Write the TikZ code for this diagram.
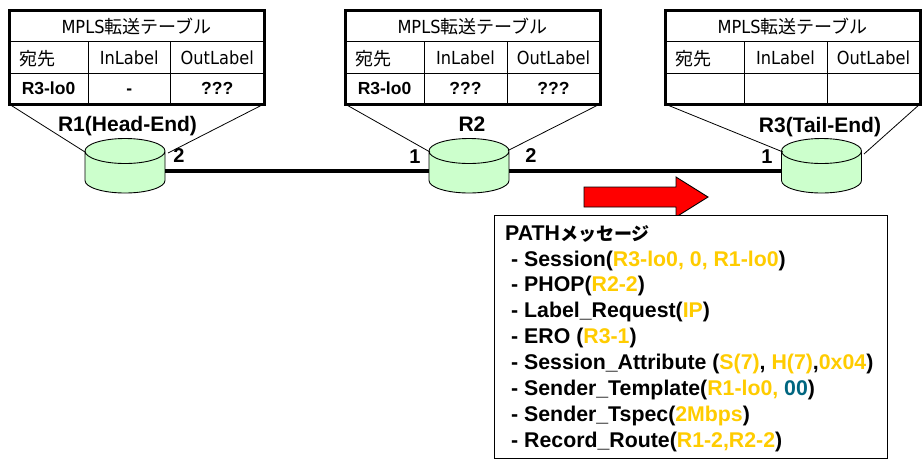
\documentclass[tikz,border=0pt]{standalone}
\usepackage{fontspec}
\setmainfont{Liberation Sans}
\newfontfamily\tah[FakeStretch=0.9]{DejaVu Sans}
\newfontfamily\cjk{Noto Sans CJK JP}
\usetikzlibrary{calc}
\definecolor{rgreen}{HTML}{CCFFCC}
\definecolor{val}{HTML}{FFCC00}
\definecolor{tealv}{HTML}{006680}
\tikzset{
  tableframe/.style={draw=black,line width=3pt,minimum width=255pt,minimum height=94pt,inner sep=0pt,outer sep=0pt,anchor=north west},
  gridline/.style={draw=black,line width=1pt},
  celltext/.style={font=\fontsize{18pt}{20pt}\tah,inner sep=0pt,anchor=base},
  cellbold/.style={font=\fontsize{17.5pt}{20pt}\bfseries,inner sep=0pt,anchor=base},
  router/.style={minimum width=80pt,minimum height=55pt,inner sep=0pt,outer sep=0pt},
  routerbody/.style={draw=black,line width=0.9pt,fill=rgreen},
  zoomline/.style={draw=black,line width=0.8pt},
  linkline/.style={draw=black,line width=3.5pt},
  rlabel/.style={font=\fontsize{21pt}{24pt}\bfseries,inner sep=0pt,anchor=base},
  portlabel/.style={font=\fontsize{20pt}{24pt}\bfseries,inner sep=0pt},
  flowanchor/.style={minimum width=124pt,minimum height=40pt,inner sep=0pt,outer sep=0pt},
  flowshape/.style={draw=black,line width=0.9pt,fill=red},
  msgbox/.style={draw=black,line width=1pt,fill=white,minimum width=393pt,minimum height=243pt,inner sep=0pt,anchor=north west},
  msgtext/.style={font=\fontsize{21.3pt}{25.9pt}\bfseries,align=left,inner sep=0pt,anchor=north west}
}
\newcommand{\jp}[1]{{\cjk #1}}
\newcommand{\jps}[1]{{\fontsize{18pt}{25.9pt}\cjk #1}}
\newcommand{\vv}[1]{\textcolor{val}{#1}}
% #1 name, #2 left x, #3 col1 x, #4 col2 x, #5 dest, #6 in, #7 out
\newcommand{\rtable}[7]{%
  \node[tableframe] (#1) at (#2,10) {};
  \coordinate (#1a) at (#3,41); \coordinate (#1b) at (#4,41);
  \coordinate (#1c) at (#3,104); \coordinate (#1d) at (#4,104);
  \coordinate (#1e) at (#2,41); \coordinate (#1f) at (#2+255,41);
  \coordinate (#1g) at (#2,73); \coordinate (#1h) at (#2+255,73);
  \draw[gridline] (#1e) -- (#1f);
  \draw[gridline] (#1g) -- (#1h);
  \draw[gridline] (#1a) -- (#1c);
  \draw[gridline] (#1b) -- (#1d);
  \node[celltext] (#1title) at (#2+127.5,33.5) {MPLS\jp{転送テーブル}};
  \node[celltext,anchor=base west] (#1dest) at (#2+10,65) {\jp{宛先}};
  \node[celltext] (#1in) at ({(#3+#4)/2},64.5) {InLabel};
  \node[celltext] (#1out) at ({(#4+#2+255)/2},64.5) {OutLabel};
  \node[cellbold] (#1v) at ({(#2+#3)/2},94.5) {#5};
  \node[cellbold] (#1w) at ({(#3+#4)/2},94.5) {#6};
  \node[cellbold] (#1x) at ({(#4+#2+255)/2},94.5) {#7};
}
% #1 node name
\newcommand{\rbody}[1]{%
  \draw[routerbody] ($(#1.center)+(-40,-14.5)$) -- ($(#1.center)+(-40,15)$)
    arc[start angle=180,end angle=360,x radius=40pt,y radius=12.5pt]
    -- ($(#1.center)+(40,-14.5)$)
    arc[start angle=0,end angle=180,x radius=40pt,y radius=12.5pt]
    arc[start angle=180,end angle=360,x radius=40pt,y radius=12.5pt];
}
\begin{document}
\begin{tikzpicture}[x=1pt,y=-1pt]
\useasboundingbox (0,0) rectangle (924,459);
\rtable{ta}{9}{88}{170.5}{R3-lo0}{-}{???}
\rtable{tb}{345}{424}{507}{R3-lo0}{???}{???}
\rtable{tc}{665}{744}{827}{}{}{}
\node[router] (ra) at (125,165.5) {};
\node[router] (rb) at (469,165.5) {};
\node[router] (rc) at (821.5,165.5) {};
\rbody{ra}\rbody{rb}\rbody{rc}
\draw[zoomline] (ta.south west) -- ($(ra.center)+(-40,-13.5)$);
\draw[zoomline] (ta.south east) -- ($(ra.center)+(43,-12.5)$);
\draw[zoomline] (tb.south west) -- ($(rb.center)+(-39,-13.5)$);
\draw[zoomline] (tb.south east) -- ($(rb.center)+(39,-15)$);
\draw[zoomline] (tc.south west) -- ($(rc.center)+(-38.5,-13.5)$);
\draw[zoomline] (tc.south east) -- ($(rc.center)+(42.5,-11.5)$);
\draw[linkline] ($(ra.center)+(40,5.5)$) -- ($(rb.center)+(-40,5.5)$);
\draw[linkline] ($(rb.center)+(40,5.5)$) -- ($(rc.center)+(-40,5.5)$);
\node[rlabel] (la) at (127.5,131.5) {R1(Head-End)};
\node[rlabel] (lb) at (472,131.5) {R2};
\node[rlabel] (lc) at (820,132) {R3(Tail-End)};
\node[portlabel] (pa) at (179,156) {2};
\node[portlabel] (pb) at (415,157) {1};
\node[portlabel] (pc) at (531,156) {2};
\node[portlabel] (pd) at (767,157) {1};
\node[flowanchor] (arrow) at (646,197) {};
\draw[flowshape] ($(arrow.center)+(-62,-10)$) -- ($(arrow.center)+(30,-10)$) -- ($(arrow.center)+(30,-20)$) -- ($(arrow.center)+(62,0)$) -- ($(arrow.center)+(30,20)$) -- ($(arrow.center)+(30,10)$) -- ($(arrow.center)+(-62,10)$) -- cycle;
\node[msgbox] (msg) at (494,214.5) {};
\node[msgtext] (msgt) at (505,225) {PATH\jps{メッセージ}\\
\hspace{6pt}- Session(\vv{R3-lo0, 0, R1-lo0})\\
\hspace{6pt}- PHOP(\vv{R2-2})\\
\hspace{6pt}- Label\_Request(\vv{IP})\\
\hspace{6pt}- ERO (\vv{R3-1})\\
\hspace{6pt}- Session\_Attribute (\vv{S(7)}, \vv{H(7)},\vv{0x04})\\
\hspace{6pt}- Sender\_Template(\vv{R1-lo0, }\textcolor{tealv}{00})\\
\hspace{6pt}- Sender\_Tspec(\vv{2Mbps})\\
\hspace{6pt}- Record\_Route(\vv{R1-2,R2-2})};
\end{tikzpicture}
\end{document}
